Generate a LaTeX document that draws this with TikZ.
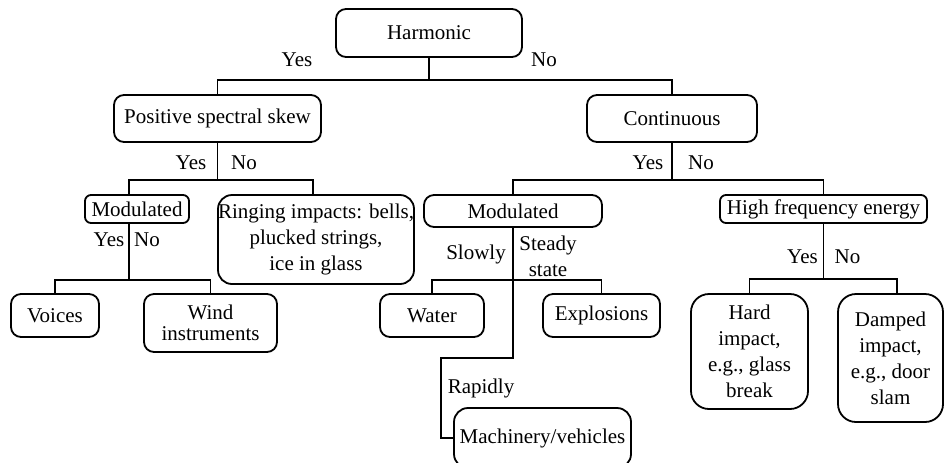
\documentclass[tikz,border=0pt]{standalone}
\usepackage{fontspec}
\setmainfont{Liberation Serif}
\begin{document}
\begin{tikzpicture}[x=0.5pt,y=-0.5pt,
  box/.style={draw, line width=0.9pt, rounded corners=#1, inner sep=0pt, align=center,
    font=\fontsize{10.5}{13}\selectfont},
  box/.default=5pt,
  conn/.style={line width=0.9pt},
  lbl/.style={inner sep=0pt, font=\fontsize{10.5}{13}\selectfont, align=center}]
\useasboundingbox (0,0) rectangle (945,462);
% boxes
\node[box, minimum width=93pt, minimum height=24pt] (harm) at (429,33) {Harmonic};
\node[box, minimum width=103.5pt, minimum height=23.5pt] (pss) at (217.5,118.5) {Positive spectral skew};
\node[box, minimum width=85pt, minimum height=23.5pt] (cont) at (672,118.5) {Continuous};
\node[box=3pt, minimum width=52pt, minimum height=14pt] (modL) at (137,209) {Modulated};
\node[box=7pt, minimum width=98pt, minimum height=44.5pt] (ring) at (316,239.5) {Ringing impacts: bells,\\plucked strings,\\ice in glass};
\node[box, minimum width=89pt, minimum height=16pt] (modR) at (513,211) {Modulated};
\node[box=3pt, minimum width=103.5pt, minimum height=14pt] (hfe) at (823.5,209) {High frequency energy};
\node[box, minimum width=44pt, minimum height=21.5pt] (voices) at (55,315.5) {Voices};
\node[box, minimum width=66.5pt, minimum height=29pt, font=\fontsize{10.5}{10.5}\selectfont] (wind) at (210.5,323) {Wind\\instruments};
\node[box, minimum width=52pt, minimum height=21.5pt] (water) at (432,315.5) {Water};
\node[box, minimum width=58.5pt, minimum height=21.5pt] (expl) at (601.5,315.5) {Explosions};
\node[box=7pt, minimum width=88.5pt, minimum height=30pt] (mach) at (542.5,438) {Machinery/vehicles};
\node[box=9pt, minimum width=58.5pt, minimum height=57.5pt] (hard) at (749.5,351.5) {Hard\\impact,\\e.g., glass\\break};
\node[box=9pt, minimum width=52.5pt, minimum height=64pt] (damp) at (890.5,358) {Damped\\impact,\\e.g., door\\slam};
% junctions
\coordinate (j1) at (429,80);
\coordinate (j2) at (217.5,180);
\coordinate (j3) at (672,180);
\coordinate (j4) at (129,280);
\coordinate (j5) at (513,280);
\coordinate (j6) at (823.5,279);
\coordinate (k1) at (513,358);
\coordinate (k2) at (441,358);
% connectors
\draw[conn] (harm.south) -- (j1);
\draw[conn] (pss.north) |- (j1) -| (cont.north);
\draw[conn] (pss.south) -- (j2);
\draw[conn] ([xshift=-4pt]modL.north) |- (j2) -| ([xshift=-1.5pt]ring.north);
\draw[conn] (cont.south) -- (j3);
\draw[conn] (modR.north) |- (j3) -| (hfe.north);
\draw[conn] ([xshift=-4pt]modL.south) -- (j4);
\draw[conn] (voices.north) |- (j4) -| (wind.north);
\draw[conn] (modR.south) -- (j5);
\draw[conn] (water.north) |- (j5) -| (expl.north);
\draw[conn] (j5) -- (k1) -- (k2) |- (mach.west);
\draw[conn] (hfe.south) -- (j6);
\draw[conn] (hard.north) |- (j6) -| ([xshift=3.25pt]damp.north);
% labels
\node[lbl] (l1) at (297,60) {Yes};
\node[lbl] (l2) at (544,60) {No};
\node[lbl] (l3) at (191,163) {Yes};
\node[lbl] (l4) at (244,163) {No};
\node[lbl] (l5) at (648,163) {Yes};
\node[lbl] (l6) at (701,163) {No};
\node[lbl] (l7) at (109,240) {Yes};
\node[lbl] (l8) at (147,240) {No};
\node[lbl] (l9) at (802.5,257) {Yes};
\node[lbl] (l10) at (847.5,257) {No};
\node[lbl] (l11) at (476,254) {Slowly};
\node[lbl] (l12) at (548,256.5) {Steady\\state};
\node[lbl] (l13) at (481,388) {Rapidly};
\end{tikzpicture}
\end{document}
